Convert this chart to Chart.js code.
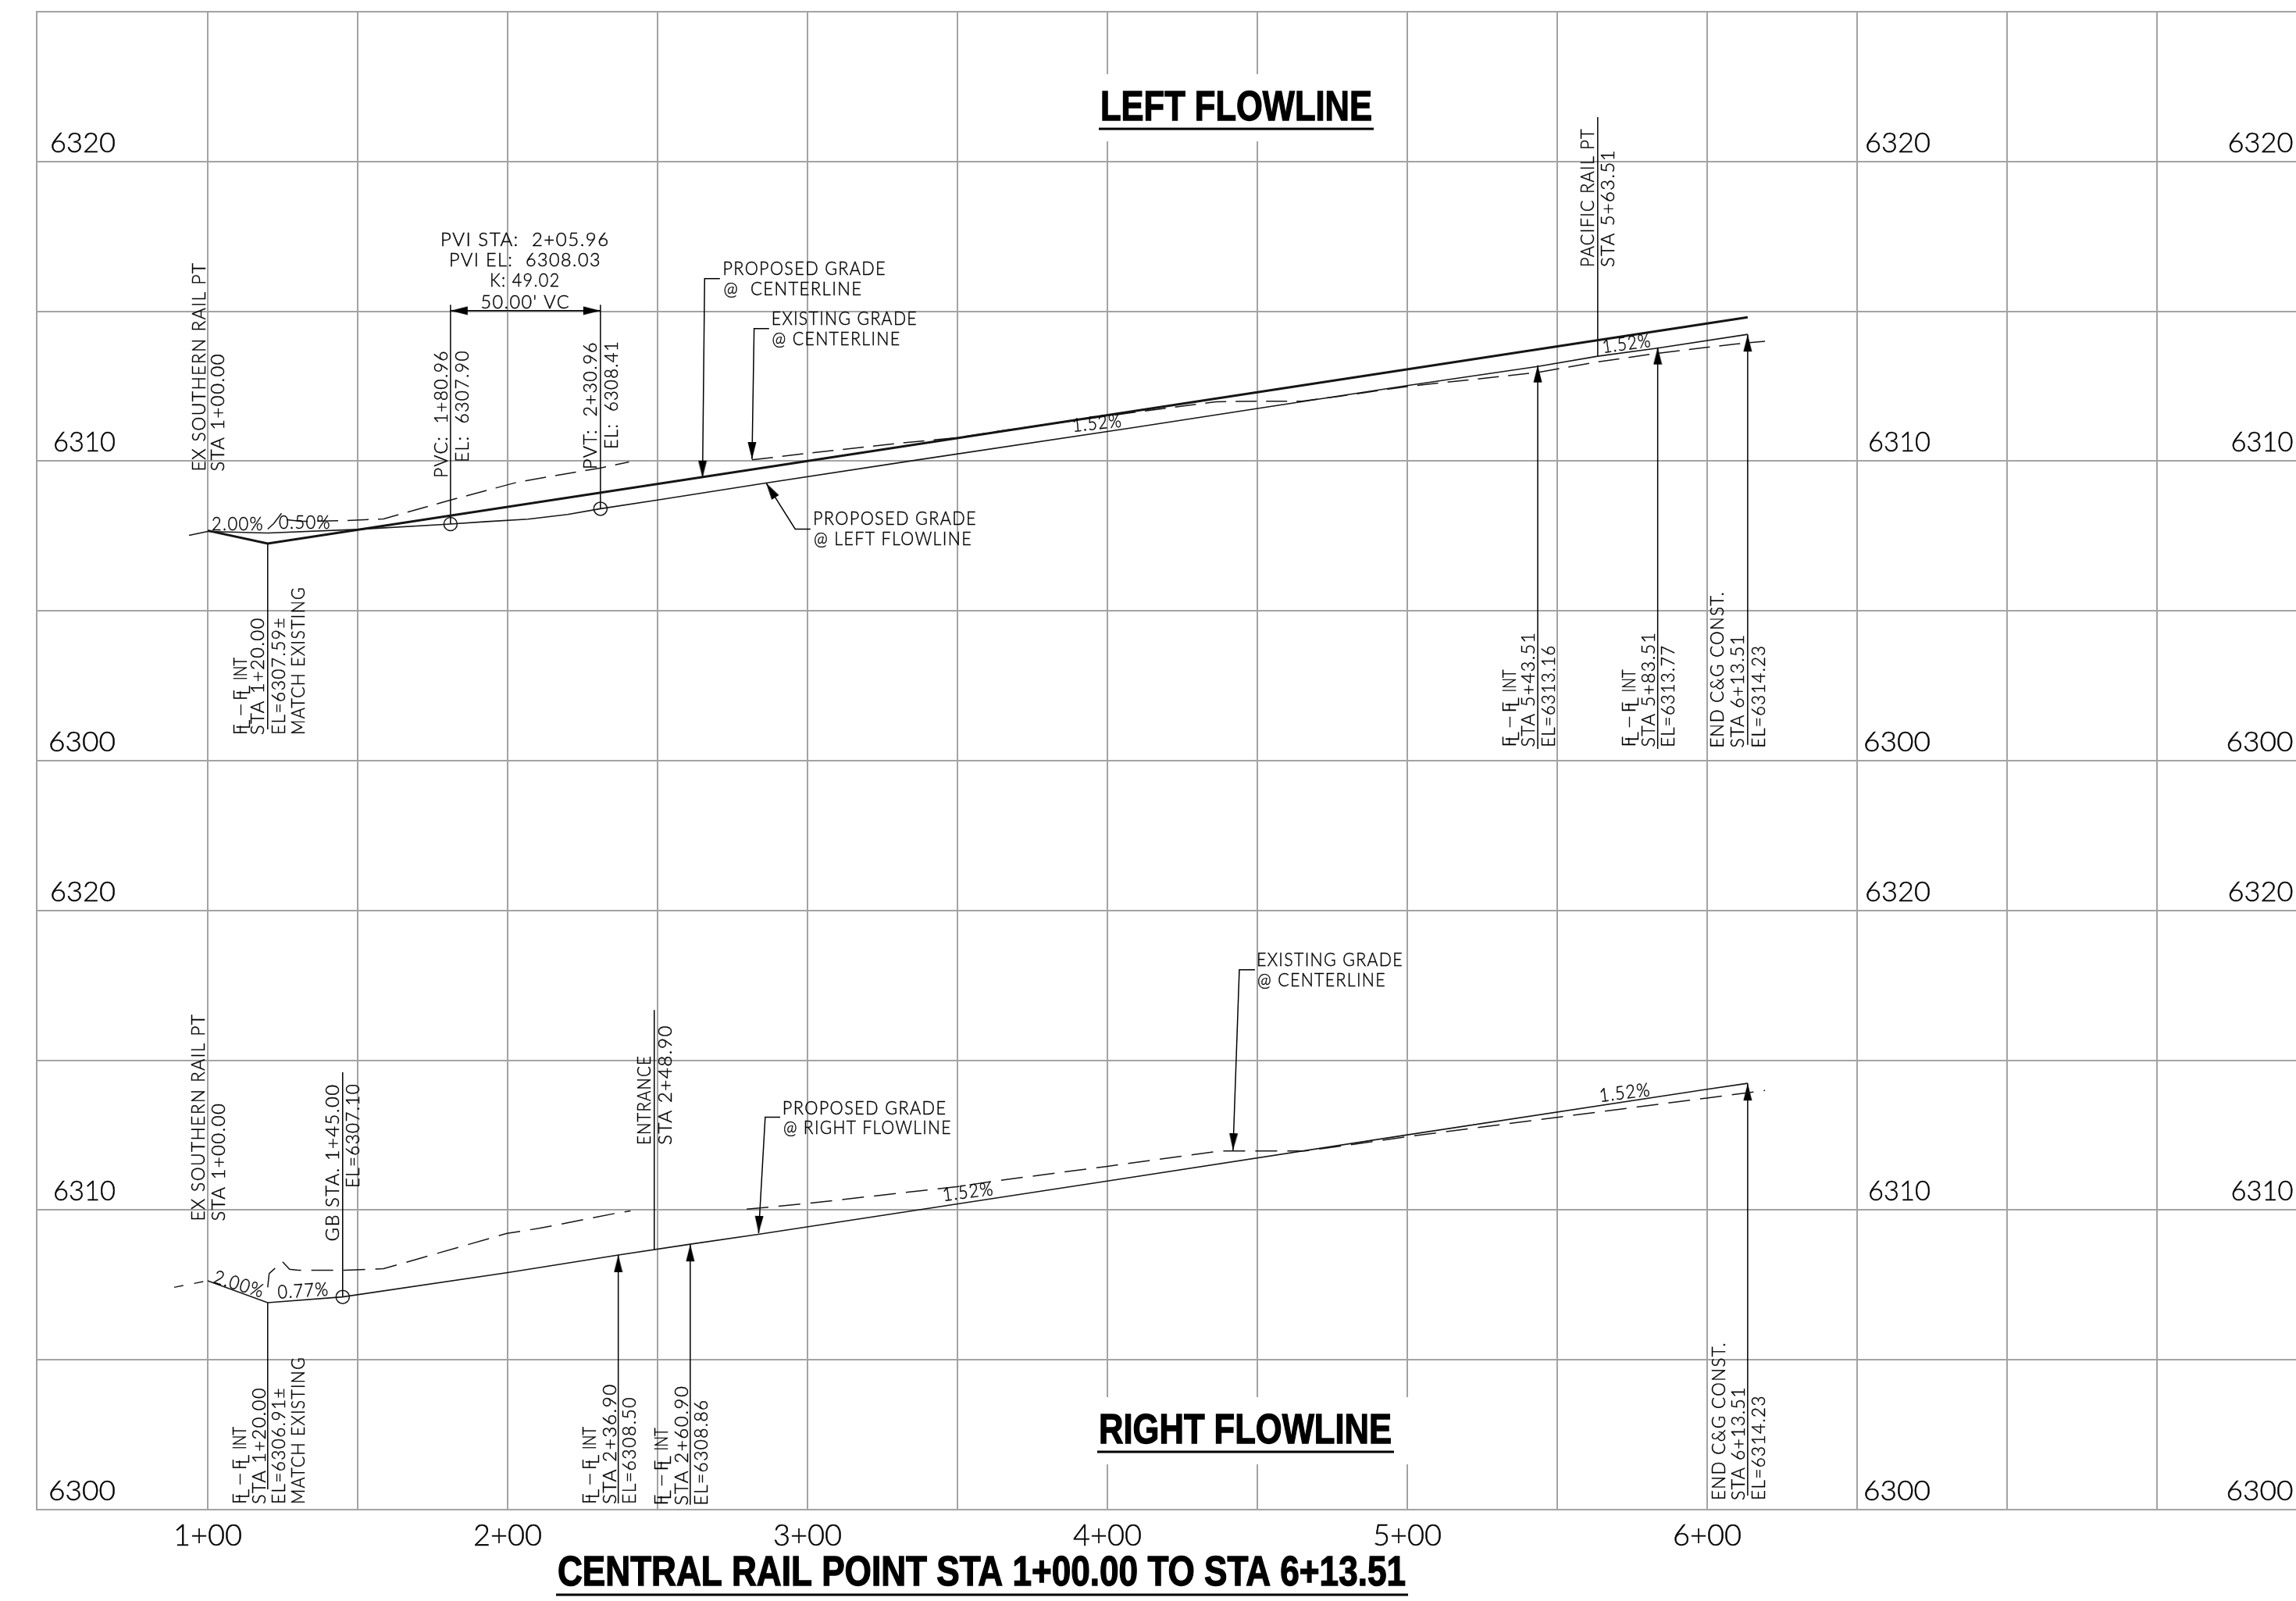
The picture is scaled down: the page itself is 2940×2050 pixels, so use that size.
<!DOCTYPE html>
<html>
<head>
<meta charset="utf-8">
<title>Central Rail Point profile</title>
<script src="https://cdn.jsdelivr.net/npm/chart.js@4/dist/chart.umd.js"></script>
<style>
    html, body { margin: 0; padding: 0; background: #fff; }
    canvas { display: block; }
</style>
</head>
<body>
<canvas id="profile" width="2940" height="2050"></canvas>
<script>
// stations (ft) and elevations (ft)
const gridStations = [100, 150, 200, 250, 300, 350, 400, 450, 500, 550, 600, 650, 700, 750];
const stationTicks = [100, 200, 300, 400, 500, 600];
const stationLabels = ["1+00", "2+00", "3+00", "4+00", "5+00", "6+00"];
const elevationTicks = [6320, 6310, 6300];

// left flowline profile
const centerStations = [100, 120, 613.51];
const centerElevs = [6307.68, 6307.25, 6314.8];
const leftFlowStations = [100, 120, 150, 180.96, 193, 206.8, 220, 230.96, 250, 285.7, 336.7, 408.3, 449.7, 499.9, 543.51, 563.51, 583.51, 613.51];
const leftFlowElevs = [6307.65, 6307.6, 6307.72, 6307.9, 6307.98, 6308.06, 6308.22, 6308.41, 6308.7, 6309.26, 6310.04, 6311.11, 6311.75, 6312.52, 6313.16, 6313.5, 6313.77, 6314.23];
const leftTieStations = [93.75, 100];
const leftTieElevs = [6307.52, 6307.65];
// existing grade runs along the 6310 grid line between these two parts
const leftExistStations1 = [120, 122, 124.8, 126.4, 131, 145.3, 158.6, 181, 203.4, 230.96, 240.5];
const leftExistElevs1 = [6307.73, 6307.91, 6308.28, 6308.04, 6307.99, 6308.01, 6308.07, 6308.7, 6309.3, 6309.77, 6309.97];
const leftExistStations2 = [281.5, 300, 330.7, 349.7, 366.6, 408.3, 436.1, 451.8, 464.8, 477.8, 500, 543.51, 563.51, 583.51, 609.5, 619.3];
const leftExistElevs2 = [6310.04, 6310.26, 6310.6, 6310.78, 6311.04, 6311.62, 6311.98, 6312, 6312, 6312.17, 6312.49, 6312.96, 6313.31, 6313.6, 6313.91, 6314];
const leftCircleStations = [180.96, 230.96];
const leftCircleElevs = [6307.9, 6308.41];

// right flowline profile
const rightFlowStations = [100, 120, 145, 200, 236.9, 260.9, 283.6, 400, 500, 600, 613.51];
const rightFlowElevs = [6307.64, 6306.91, 6307.1, 6307.91, 6308.5, 6308.86, 6309.19, 6310.97, 6312.51, 6314.03, 6314.23];
const rightTieStations = [88.8, 100];
const rightTieElevs = [6307.42, 6307.64];
const rightExistStations1 = [120, 120.5, 124.9, 127.3, 130.3, 145.5, 158.6, 199.8, 210.5, 237, 241];
const rightExistElevs1 = [6307.42, 6307.88, 6308.28, 6308.02, 6307.99, 6307.99, 6308.04, 6309.22, 6309.39, 6309.91, 6309.97];
const rightExistStations2 = [279.7, 300, 349.9, 362.6, 400, 437.4, 465.8, 479.2, 500, 600, 619.3];
const rightExistElevs2 = [6310.03, 6310.22, 6310.78, 6310.97, 6311.46, 6311.97, 6311.97, 6312.15, 6312.45, 6313.74, 6313.99];
const rightCircleStations = [145];
const rightCircleElevs = [6307.1];

// leader lines, one station/elevation list per leader
const upperLeaderStations = [
    [180.96, 180.96], [230.96, 230.96], [180.96, 230.96],
    [270.8, 265.7, 265], [287.2, 282.2, 281.5], [301, 295.9, 286.2],
    [120, 120], [563.51, 563.51],
    [543.51, 543.51], [583.51, 583.51], [613.51, 613.51],
];
const upperLeaderElevs = [
    [6315.22, 6307.9], [6315.22, 6308.41], [6315.02, 6315.02],
    [6316.09, 6316.09, 6309.44], [6314.42, 6314.42, 6310.06], [6307.73, 6307.73, 6309.27],
    [6301.04, 6307.25], [6321.48, 6313.51],
    [6300.39, 6313.2], [6300.39, 6313.8], [6300.53, 6314.23],
];
const lowerLeaderStations = [
    [120, 120], [145, 145], [248.9, 248.9],
    [236.9, 236.9], [260.9, 260.9], [613.51, 613.51],
    [449.2, 444, 441.9], [290.9, 285.9, 283.7],
];
const lowerLeaderElevs = [
    [6300.68, 6306.91], [6314.6, 6307.1], [6316.68, 6308.67],
    [6300.21, 6308.5], [6300.16, 6308.86], [6300.47, 6314.23],
    [6318.02, 6318.02, 6311.99], [6313.1, 6313.1, 6309.23],
];
// arrow direction in degrees from up, null = plain line, two values = both ends
const upperLeaderArrows = [null, null, [-90, 90], 180, 180, -32.4, null, null, 0, 0, 0];
const lowerLeaderArrows = [null, null, null, 0, 0, 0, 182, 182];

const GRID = "#a3a3a3";
const INK = "#151515";
const THIN_FONT = '"Lato", "Open Sans", sans-serif';

const arrowHead = document.createElement("canvas");
arrowHead.width = 12;
arrowHead.height = 46;
const ah = arrowHead.getContext("2d");
ah.fillStyle = "#000";
ah.beginPath();
ah.moveTo(6, 23);
ah.lineTo(11.5, 45);
ah.lineTo(0.5, 45);
ah.closePath();
ah.fill();

function toPoints(stations, elevs) {
    return stations.map((s, i) => ({ x: s, y: elevs[i] }));
}

function profileLine(stations, elevs, axis, width, dash) {
    return {
        type: "line",
        data: toPoints(stations, elevs),
        yAxisID: axis,
        borderColor: INK,
        borderWidth: width,
        borderDash: dash || [],
        pointRadius: 0,
        tension: 0,
        fill: false,
    };
}

function circles(stations, elevs, axis) {
    return {
        type: "line",
        data: toPoints(stations, elevs),
        yAxisID: axis,
        showLine: false,
        pointStyle: "circle",
        pointRadius: 8.5,
        pointBackgroundColor: "rgba(0,0,0,0)",
        pointBorderColor: INK,
        pointBorderWidth: 1.5,
    };
}

function leader(stations, elevs, axis, arrow) {
    const n = stations.length;
    const ds = profileLine(stations, elevs, axis, 1.5);
    ds.borderColor = "#000";
    if (arrow === null) return ds;
    const both = Array.isArray(arrow);
    ds.pointStyle = arrowHead;
    ds.pointRadius = stations.map((s, i) => (both || i === n - 1 ? 5 : 0));
    ds.pointRotation = both ? arrow : stations.map(() => arrow);
    return ds;
}

const datasets = [
    profileLine(centerStations, centerElevs, "yUpper", 3),
    profileLine(leftFlowStations, leftFlowElevs, "yUpper", 1.6),
    profileLine(leftTieStations, leftTieElevs, "yUpper", 1.5, [28, 12]),
    profileLine(leftExistStations1, leftExistElevs1, "yUpper", 1.5, [27, 12]),
    profileLine(leftExistStations2, leftExistElevs2, "yUpper", 1.5, [27, 12]),
    circles(leftCircleStations, leftCircleElevs, "yUpper"),
    profileLine(rightFlowStations, rightFlowElevs, "yLower", 1.6),
    profileLine(rightTieStations, rightTieElevs, "yLower", 1.5, [12, 14]),
    profileLine(rightExistStations1, rightExistElevs1, "yLower", 1.5, [28, 13]),
    profileLine(rightExistStations2, rightExistElevs2, "yLower", 1.5, [28, 13]),
    circles(rightCircleStations, rightCircleElevs, "yLower"),
];
upperLeaderStations.forEach((s, i) => datasets.push(leader(s, upperLeaderElevs[i], "yUpper", upperLeaderArrows[i])));
lowerLeaderStations.forEach((s, i) => datasets.push(leader(s, lowerLeaderElevs[i], "yLower", lowerLeaderArrows[i])));

// text placement in page pixels: text, baseline x, baseline y, length, rotation
const VERT = -90;
const sideText = [
    ["EX SOUTHERN RAIL PT", 263, 603.5, 268, VERT],
    ["STA 1+00.00", 287, 603.5, 151.5, VERT],
    ["PVC:  1+80.96", 572.7, 612, 164, VERT],
    ["EL:  6307.90", 599.5, 592, 144, VERT],
    ["PVT:  2+30.96", 764, 601, 164, VERT],
    ["EL:  6308.41", 791, 575, 139, VERT],
    ["STA 1+20.00", 338, 941, 151, VERT],
    ["EL=6307.59\u00b1", 365, 941, 151, VERT],
    ["MATCH EXISTING", 390, 941, 190, VERT],
    ["PACIFIC RAIL PT", 2041, 342, 178, VERT],
    ["STA 5+63.51", 2067, 342, 151, VERT],
    ["STA 5+43.51", 1965, 956.5, 148, VERT],
    ["EL=6313.16", 1991, 956.5, 131, VERT],
    ["STA 5+83.51", 2118.5, 956.5, 148, VERT],
    ["EL=6313.77", 2144.4, 956.5, 131, VERT],
    ["END C&G CONST.", 2207.4, 957.6, 201, VERT],
    ["STA 6+13.51", 2232.8, 957.6, 146, VERT],
    ["EL=6314.23", 2259.7, 957.6, 132, VERT],

    ["EX SOUTHERN RAIL PT", 261.6, 1563.6, 266, VERT],
    ["STA 1+00.00", 288, 1563.6, 152, VERT],
    ["GB STA. 1+45.00", 434, 1589.5, 202, VERT],
    ["EL=6307.10", 459.6, 1521, 134, VERT],
    ["ENTRANCE", 833, 1466, 115, VERT],
    ["STA 2+48.90", 860, 1466, 154, VERT],
    ["STA 1+20.00", 339.7, 1926, 150, VERT],
    ["EL=6306.91\u00b1", 364.7, 1926, 150, VERT],
    ["MATCH EXISTING", 390, 1926, 189, VERT],
    ["STA 2+36.90", 788.7, 1926, 155, VERT],
    ["EL=6308.50", 814, 1926, 138, VERT],
    ["STA 2+60.90", 880.5, 1927.4, 154, VERT],
    ["EL=6308.86", 906, 1927.4, 136, VERT],
    ["END C&G CONST.", 2208.7, 1921, 203, VERT],
    ["STA 6+13.51", 2234, 1921, 146, VERT],
    ["EL=6314.23", 2259.6, 1921, 135, VERT],

    ["PVI STA:  2+05.96", 564, 315, 216.6, 0],
    ["PVI EL:  6308.03", 575, 341, 195, 0],
    ["K: 49.02", 627, 366.6, 90.5, 0],
    ["50.00' VC", 615.4, 394.6, 114.6, 0],
    ["PROPOSED GRADE", 925.4, 352.3, 209.6, 0],
    ["@  CENTERLINE", 926.5, 378.3, 178, 0],
    ["EXISTING GRADE", 987.8, 416.3, 187.2, 0],
    ["@ CENTERLINE", 988.5, 442.3, 165, 0],
    ["PROPOSED GRADE", 1041, 672.3, 210, 0],
    ["@ LEFT FLOWLINE", 1042, 697.7, 203, 0],
    ["EXISTING GRADE", 1609, 1237.3, 188, 0],
    ["@ CENTERLINE", 1610, 1262.7, 165, 0],
    ["PROPOSED GRADE", 1001.8, 1426.7, 210.6, 0],
    ["@ RIGHT FLOWLINE", 1003, 1452.3, 215.7, 0],

    ["2.00%", 271, 679, 67, 0],
    ["0.50%", 357, 677, 67, 0],
    ["1.52%", 1374, 553, 64, -6],
    ["1.52%", 2053, 452, 63, -7.5],
    ["2.00%", 272, 1642, 67, 17.5],
    ["0.77%", 356, 1662.7, 66, -3.5],
    ["1.52%", 1208, 1538, 66, -7],
    ["1.52%", 2049, 1411, 66, -7],
];
// baseline x and y for the flowline intersection notes
const flowNotes = [
    [316, 941], [1941, 956.5], [2094.4, 956.5],
    [315, 1926], [763, 1926], [855, 1927.4],
];
const titles = [
    { text: "LEFT FLOWLINE", x: 1409, y: 154, len: 348, rule: [1407, 1759, 165] },
    { text: "RIGHT FLOWLINE", x: 1407, y: 1848, len: 375, rule: [1405, 1785, 1859] },
    { text: "CENTRAL RAIL POINT STA 1+00.00 TO STA 6+13.51", x: 714, y: 2030, len: 1086, rule: [712, 1803, 2042] },
];
// right edge of the three columns of elevation labels
const elevationColumns = [148, 2472, 2936.6];
const elevationWidth = { 6320: 84, 6310: 80, 6300: 86 };
const titleMasks = [[1400, 95, 370, 86], [1400, 1789, 410, 86]];

// fills and lightly strokes the text so the light face reads as a plotter pen
function fitText(ctx, text, x, y, len, deg) {
    ctx.save();
    ctx.translate(x, y);
    ctx.rotate(deg * Math.PI / 180);
    ctx.scale(len / ctx.measureText(text).width, 1);
    ctx.fillText(text, 0, 0);
    ctx.strokeText(text, 0, 0);
    ctx.restore();
}

function flowNote(ctx, x, y) {
    ctx.save();
    ctx.translate(x, y);
    ctx.rotate(-Math.PI / 2);
    [0, 44].forEach((d) => {
        ctx.fillText("F", d, 0);
        ctx.strokeText("F", d, 0);
        ctx.fillText("L", d + 7, 4);
        ctx.strokeText("L", d + 7, 4);
    });
    fitText(ctx, "\u2212", 23, 0, 18, 0);
    fitText(ctx, "INT", 70, 0, 29, 0);
    ctx.restore();
}

const drawingText = {
    id: "drawingText",
    beforeDatasetsDraw(chart) {
        const ctx = chart.ctx;
        ctx.save();
        ctx.fillStyle = "#fff";
        titleMasks.forEach((m) => ctx.fillRect(m[0], m[1], m[2], m[3]));
        ctx.restore();
    },
    afterDatasetsDraw(chart) {
        const ctx = chart.ctx;
        ctx.save();
        ctx.textAlign = "left";
        ctx.textBaseline = "alphabetic";
        ctx.fillStyle = "#000";
        ctx.strokeStyle = "#000";
        ctx.lineWidth = 0.45;

        ctx.font = "300 24px " + THIN_FONT;
        ctx.letterSpacing = "1.5px";
        sideText.forEach((t) => fitText(ctx, t[0], t[1], t[2], t[3], t[4]));
        ctx.letterSpacing = "0px";
        flowNotes.forEach((n) => flowNote(ctx, n[0], n[1]));

        ctx.font = "300 36px " + THIN_FONT;
        const axes = [chart.scales.yUpper, chart.scales.yLower];
        axes.forEach((scale) => {
            elevationTicks.forEach((v) => {
                const py = scale.getPixelForValue(v) - 12;
                elevationColumns.forEach((right) => {
                    const w = elevationWidth[v];
                    fitText(ctx, String(v), right - w, py, w, 0);
                });
            });
        });

        ctx.font = 'bold 54px "Liberation Sans", Arial, sans-serif';
        titles.forEach((t) => {
            ctx.lineWidth = 1.4;
            fitText(ctx, t.text, t.x, t.y, t.len, 0);
            ctx.lineWidth = 3;
            ctx.beginPath();
            ctx.moveTo(t.rule[0], t.rule[2]);
            ctx.lineTo(t.rule[1], t.rule[2]);
            ctx.stroke();
        });
        ctx.restore();
    },
};

new Chart(document.getElementById("profile"), {
    data: { datasets: datasets },
    plugins: [drawingText],
    options: {
        responsive: false,
        animation: false,
        devicePixelRatio: 1,
        layout: { autoPadding: false, padding: { left: 46.6, right: 0, top: 15, bottom: 0 } },
        plugins: {
            legend: { display: false },
            tooltip: { enabled: false },
        },
        scales: {
            x: {
                type: "linear",
                min: 42.87,
                max: 796.36,
                afterBuildTicks: (scale) => {
                    scale.ticks = gridStations.map((v) => ({ value: v }));
                },
                afterFit: (scale) => {
                    scale.height = 117;
                    scale.paddingLeft = 0;
                    scale.paddingRight = 0;
                },
                grid: { color: GRID, lineWidth: 2, drawTicks: false },
                border: { color: GRID, width: 2 },
                ticks: {
                    autoSkip: false,
                    maxRotation: 0,
                    padding: 11,
                    color: "#000",
                    textStrokeColor: "#000",
                    textStrokeWidth: 0.45,
                    font: { family: THIN_FONT, size: 38, weight: "300" },
                    callback: (value) => {
                        const i = stationTicks.indexOf(value);
                        return i < 0 ? "" : stationLabels[i];
                    },
                },
            },
            yUpper: {
                type: "linear",
                position: "left",
                min: 6275,
                max: 6325,
                afterFit: (scale) => {
                    scale.width = 0;
                },
                grid: { color: GRID, lineWidth: 2, drawTicks: false },
                border: { display: true, color: GRID, width: 2 },
                ticks: { display: false, stepSize: 5 },
            },
            yLower: {
                type: "linear",
                position: "left",
                display: false,
                min: 6300,
                max: 6350,
            },
        },
    },
});
</script>
</body>
</html>
